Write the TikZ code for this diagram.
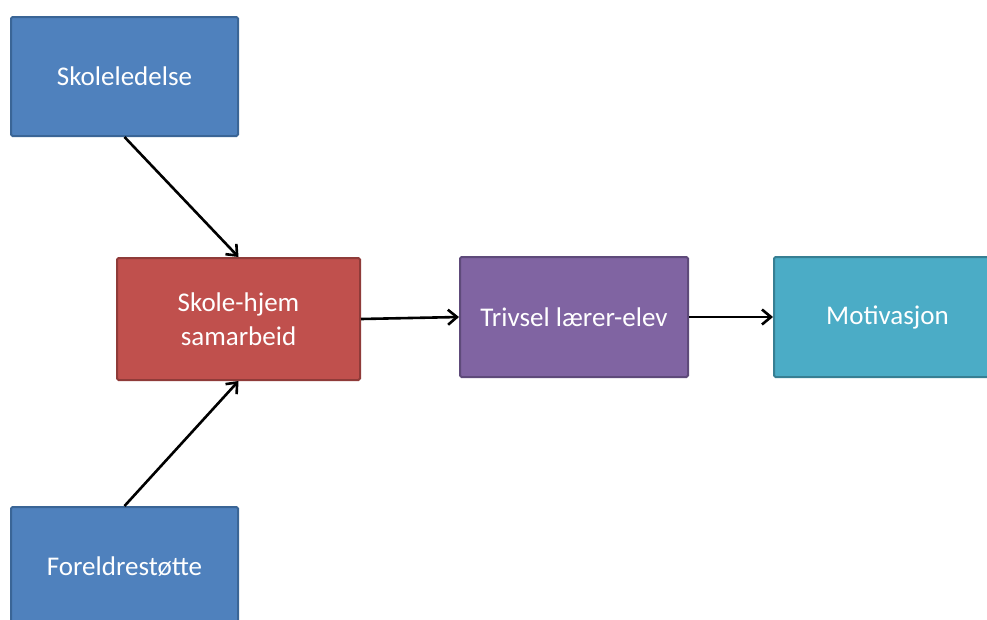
\documentclass[tikz,border=0pt]{standalone}
\usepackage{fontspec}
\setmainfont{Carlito}
\usetikzlibrary{arrows.meta}

\definecolor{ledblue}{HTML}{4F81BD}
\definecolor{ledblueline}{HTML}{3A6596}
\definecolor{hjemred}{HTML}{C0504D}
\definecolor{hjemredline}{HTML}{8F3B39}
\definecolor{trivpurple}{HTML}{8064A2}
\definecolor{trivpurpleline}{HTML}{5E4A7A}
\definecolor{motteal}{HTML}{4BACC6}
\definecolor{mottealline}{HTML}{377F93}

\tikzset{
    box/.style={rectangle, rounded corners=1.5pt, line width=2pt,
        text=white, align=center, inner sep=0pt,
        font=\fontsize{27}{34}\selectfont,
        minimum width=227pt, minimum height=119pt},
    flow/.style={-{Straight Barb[length=9pt,width=15pt,line width=2.6pt]},
        line width=2.6pt, black}
}

\begin{document}
\begin{tikzpicture}[x=1pt, y=-1pt]
        \useasboundingbox (0,0) rectangle (987,619);
        \clip (0,0) rectangle (987,619);

        \node (SK) [box, fill=ledblue, draw=ledblueline] at (124.5,76.5) {Skoleledelse};
        \node (SH) [box, fill=hjemred, draw=hjemredline, minimum width=243pt,
            minimum height=122pt] at (238.5,319) {Skole-hjem\\samarbeid};
        \node (TR) [box, fill=trivpurple, draw=trivpurpleline, minimum width=228pt,
            minimum height=120pt] at (574,317) {Trivsel lærer-elev};
        \node (MO) [box, fill=motteal, draw=mottealline,
            minimum height=120pt] at (887.5,317) {Motivasjon};
        \node (FS) [box, fill=ledblue, draw=ledblueline,
            minimum height=120pt] at (124.5,567) {Foreldrestøtte};

        % inn til samarbeid
        \draw[flow] (SK.south) -- (SH.north);
        \draw[flow] (FS.north) -- (SH.south);
        %
        \draw[flow] (SH.east) -- (TR.west);
        \draw[flow] (TR.east) -- (MO.west);
    \end{tikzpicture}
\end{document}
